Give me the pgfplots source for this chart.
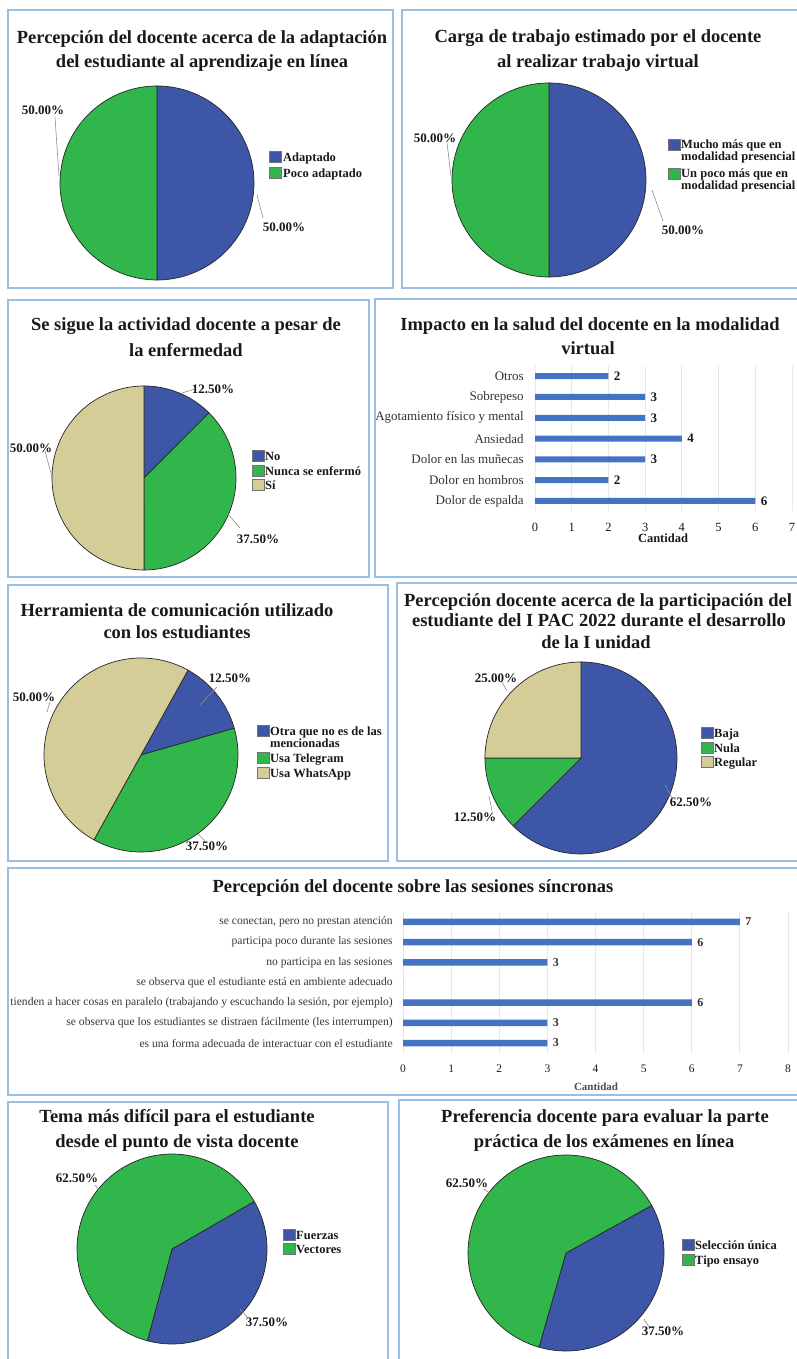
\documentclass[border=0pt]{standalone}
\usepackage{fontspec}
\setmainfont{Liberation Serif}
\usepackage{pgfplots}
\pgfplotsset{compat=1.18}
\definecolor{pblue}{RGB}{62,86,168}
\definecolor{pgreen}{RGB}{48,182,74}
\definecolor{ptan}{RGB}{212,205,152}
\definecolor{barblue}{RGB}{68,114,196}
\definecolor{framec}{RGB}{152,192,228}
\definecolor{txt}{RGB}{25,25,25}
\newcommand{\fT}{\fontsize{18.5}{22}\selectfont\bfseries}
\newcommand{\fL}{\fontsize{12.5}{13}\selectfont\bfseries}
\newcommand{\fP}{\fontsize{13}{14}\selectfont\bfseries}
\pgfplotsset{pie/.style={scale only axis, width=#1, height=#1, xmin=-1, xmax=1, ymin=-1, ymax=1, hide axis, anchor=center, clip=false}}
\newcommand{\sector}[3]{\addplot[fill=#1, draw=black!85, line width=0.7pt, domain=#2:#3, samples=80] ({cos(x)},{sin(x)}) -- (axis cs:0,0) -- cycle;}
\newcommand{\tl}[3]{\node[font=\fT, text=txt, anchor=base, inner sep=0] at (#1,#2+6) {#3};}
\newcommand{\pl}[3]{\node[font=\fP, text=txt, anchor=base, inner sep=0] at (#1,#2+4.4) {#3};}
\newcommand{\ld}[4]{\draw[black!45, line width=0.6pt] (#1,#2) -- (#3,#4);}
\newcommand{\lgbox}[3]{\filldraw[fill=#3, draw=black!55, line width=0.4pt] (#1,#2-5.5) rectangle (#1+12,#2+5.5);}
\newcommand{\lgtxt}[3]{\node[font=\fL, text=txt, anchor=base west, inner sep=0] at (#1,#2+4.2) {#3};}
\begin{document}
\begin{tikzpicture}
\fill[white] (0pt,0pt) rectangle (797pt,1359pt);

% ---- Pies ----
% A: Adaptado 50, Poco adaptado 50
\begin{axis}[pie=194pt, at={(157pt,1176pt)}]
\sector{pblue}{-90}{90}
\sector{pgreen}{90}{270}
\end{axis}
% B: Mucho mas 50, Un poco mas 50
\begin{axis}[pie=194pt, at={(549pt,1179pt)}]
\sector{pblue}{-90}{90}
\sector{pgreen}{90}{270}
\end{axis}
% C: No 12.5, Nunca se enfermo 37.5, Si 50
\begin{axis}[pie=184pt, at={(144pt,881pt)}]
\sector{pblue}{45}{90}
\sector{pgreen}{-90}{45}
\sector{ptan}{90}{270}
\end{axis}
% E: Otra 12.5, Telegram 37.5, WhatsApp 50
\begin{axis}[pie=194pt, at={(141pt,604pt)}]
\sector{pblue}{16}{61}
\sector{pgreen}{-119}{16}
\sector{ptan}{61}{241}
\end{axis}
% F: Baja 62.5, Nula 12.5, Regular 25
\begin{axis}[pie=192pt, at={(581pt,601pt)}]
\sector{pblue}{-135}{90}
\sector{pgreen}{-180}{-135}
\sector{ptan}{90}{180}
\end{axis}
% H: Fuerzas 37.5, Vectores 62.5
\begin{axis}[pie=190pt, at={(172pt,110pt)}]
\sector{pblue}{-105}{30}
\sector{pgreen}{30}{255}
\end{axis}
% I: Seleccion unica 37.5, Tipo ensayo 62.5
\begin{axis}[pie=196pt, at={(566pt,106pt)}]
\sector{pblue}{-106}{29}
\sector{pgreen}{29}{254}
\end{axis}

% ---- Bar chart D ----
\begin{axis}[
  at={(535pt,847.6pt)}, anchor=south west, scale only axis, width=257pt, height=145.6pt,
  xbar, bar width=6pt, xmin=0, xmax=7, ymin=-0.5, ymax=6.5,
  xtick={0,1,...,7}, ytick={0,1,...,6},
  yticklabels={Dolor de espalda, Dolor en hombros, Dolor en las muñecas, Ansiedad, Agotamiento físico y mental, Sobrepeso, Otros},
  axis line style={draw=none}, tick style={draw=none},
  xmajorgrids, major grid style={draw=black!9, line width=0.8pt},
  /pgf/number format/assume math mode=true,
  xticklabel style={font=\fontsize{12.5}{13}\selectfont, text=txt, yshift=-8.5pt},
  yticklabel style={font=\fontsize{13}{14}\selectfont, text=black!80, xshift=-3.5pt},
  point meta=x, nodes near coords, nodes near coords align={horizontal},
  nodes near coords style={font=\fontsize{13}{14}\selectfont\bfseries, text=txt, anchor=west, xshift=2pt},
  clip=false,
]
\addplot[fill=barblue, draw=none] coordinates {(6,0) (2,1) (3,2) (4,3) (3,4) (3,5) (2,6)};
\end{axis}

% ---- Bar chart G ----
\begin{axis}[
  at={(403pt,305.9pt)}, anchor=south west, scale only axis, width=385pt, height=141.2pt,
  xbar, bar width=6.5pt, xmin=0, xmax=8, ymin=-0.5, ymax=6.5,
  xtick={0,1,...,8}, ytick={0,1,...,6},
  yticklabels={es una forma adecuada de interactuar con el estudiante,
    se observa que los estudiantes se distraen fácilmente (les interrumpen),
    {tienden a hacer cosas en paralelo (trabajando y escuchando la sesión, por ejemplo)},
    se observa que el estudiante está en ambiente adecuado,
    no participa en las sesiones,
    participa poco durante las sesiones,
    {se conectan, pero no prestan atención}},
  axis line style={draw=none}, tick style={draw=none},
  xmajorgrids, major grid style={draw=black!9, line width=0.8pt},
  /pgf/number format/assume math mode=true,
  xticklabel style={font=\fontsize{11.5}{12}\selectfont, text=txt, yshift=-8pt},
  yticklabel style={font=\fontsize{11.6}{12}\selectfont, text=black!78, xshift=-2.5pt},
  point meta=explicit symbolic, nodes near coords,
  nodes near coords style={font=\fontsize{12}{13}\selectfont\bfseries, text=black!80, anchor=west, xshift=2pt},
  clip=false,
]
\addplot[fill=barblue, draw=none] coordinates {(3,0) [3] (3,1) [3] (6,2) [6] (0,3) [] (3,4) [3] (6,5) [6] (7,6) [7]};
\end{axis}

% ---- Decorations in image coordinates ----
\begin{scope}[x=1pt, y=-1pt, yshift=1359pt]
\draw[framec, line width=1.6pt] (8,10) rectangle (393,288);
\draw[framec, line width=1.6pt] (402,10) rectangle (803,288);
\draw[framec, line width=1.6pt] (8,300) rectangle (369,577);
\draw[framec, line width=1.6pt] (375,299) rectangle (803,577);
\draw[framec, line width=1.6pt] (8,585) rectangle (388,861);
\draw[framec, line width=1.6pt] (397,583) rectangle (803,861);
\draw[framec, line width=1.6pt] (8,868) rectangle (803,1095);
\draw[framec, line width=1.6pt] (8,1102) rectangle (388,1365);
\draw[framec, line width=1.6pt] (399,1100) rectangle (803,1365);

% titles
\tl{202}{38}{Percepción del docente acerca de la adaptación}
\tl{202}{62}{del estudiante al aprendizaje en línea}
\tl{598}{37}{Carga de trabajo estimado por el docente}
\tl{598}{62}{al realizar trabajo virtual}
\tl{186}{325}{Se sigue la actividad docente a pesar de}
\tl{186}{351}{la enfermedad}
\tl{590}{325}{Impacto en la salud del docente en la modalidad}
\tl{588}{349}{virtual}
\tl{177}{611}{Herramienta de comunicación utilizado}
\tl{177}{633}{con los estudiantes}
\tl{598}{601}{Percepción docente acerca de la participación del}
\tl{599}{621}{estudiante del I PAC 2022 durante el desarrollo}
\tl{596}{643}{de la I unidad}
\tl{413}{887}{Percepción del docente sobre las sesiones síncronas}
\tl{177}{1117}{Tema más difícil para el estudiante}
\tl{177}{1142}{desde el punto de vista docente}
\tl{605}{1117}{Preferencia docente para evaluar la parte}
\tl{604}{1142}{práctica de los exámenes en línea}

% axis titles of bar charts
\node[font=\fontsize{12.5}{13}\selectfont\bfseries, text=txt, anchor=base] at (663,543) {Cantidad};
\node[font=\fontsize{11}{12}\selectfont\bfseries, text=black!70, anchor=base] at (596,1091) {Cantidad};

% pie labels and leader lines
\pl{43}{110}{50.00\%} \ld{55}{117}{59}{176}
\pl{284}{227}{50.00\%} \ld{257}{195}{263}{218}
\pl{435}{138}{50.00\%} \ld{447}{143}{451}{176}
\pl{683}{230}{50.00\%} \ld{652}{190}{663}{221}
\pl{213}{389}{12.50\%} \ld{182}{393}{195}{389}
\pl{31}{448}{50.00\%} \ld{45}{451}{52}{477}
\pl{258}{539}{37.50\%} \ld{228}{514}{240}{528}
\pl{230}{678}{12.50\%} \ld{200}{705}{217}{687}
\pl{34}{697}{50.00\%} \ld{50}{702}{47}{712}
\pl{207}{846}{37.50\%} \ld{198}{834}{206}{842}
\pl{496}{678}{25.00\%} \ld{502}{682}{507}{691}
\pl{475}{817}{12.50\%} \ld{489}{796}{492}{811}
\pl{691}{802}{62.50\%} \ld{665}{785}{672}{798}
\pl{77}{1178}{62.50\%} \ld{95}{1185}{100}{1191}
\pl{267}{1322}{37.50\%} \ld{240}{1309}{248}{1318}
\pl{467}{1183}{62.50\%} \ld{484}{1189}{492}{1195}
\pl{663}{1331}{37.50\%} \ld{644}{1319}{649}{1327}

% legends
\lgbox{269}{157}{pblue} \lgtxt{283}{157}{Adaptado}
\lgbox{269}{173}{pgreen} \lgtxt{283}{173}{Poco adaptado}

\lgbox{668}{145}{pblue} \lgtxt{681}{144}{Mucho más que en}
\lgtxt{681}{156.5}{modalidad presencial}
\lgbox{668}{174}{pgreen} \lgtxt{681}{173}{Un poco más que en}
\lgtxt{681}{185.5}{modalidad presencial}

\lgbox{252}{456}{pblue} \lgtxt{265}{456}{No}
\lgbox{252}{471}{pgreen} \lgtxt{265}{471}{Nunca se enfermó}
\lgbox{252}{485}{ptan} \lgtxt{265}{485}{Sí}

\lgbox{257}{731}{pblue} \lgtxt{270}{731}{Otra que no es de las}
\lgtxt{270}{743}{mencionadas}
\lgbox{257}{758}{pgreen} \lgtxt{270}{758}{Usa Telegram}
\lgbox{257}{773}{ptan} \lgtxt{270}{773}{Usa WhatsApp}

\lgbox{701}{733}{pblue} \lgtxt{714}{733}{Baja}
\lgbox{701}{748}{pgreen} \lgtxt{714}{748}{Nula}
\lgbox{701}{762}{ptan} \lgtxt{714}{762}{Regular}

\lgbox{283}{1235}{pblue} \lgtxt{296}{1235}{Fuerzas}
\lgbox{283}{1249}{pgreen} \lgtxt{296}{1249}{Vectores}

\lgbox{682}{1245}{pblue} \lgtxt{695}{1245}{Selección única}
\lgbox{682}{1260}{pgreen} \lgtxt{695}{1260}{Tipo ensayo}
\end{scope}
\pgfresetboundingbox
\useasboundingbox (0pt,0pt) rectangle (797pt,1359pt);
\end{tikzpicture}
\end{document}
